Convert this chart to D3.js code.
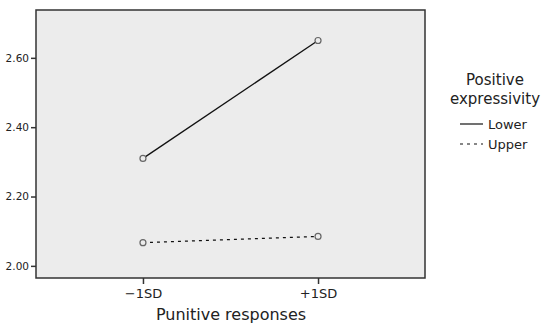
<!DOCTYPE html>
<html>
<head>
<meta charset="utf-8">
<script src="https://cdn.jsdelivr.net/npm/d3@7"></script>
<style>
  body { margin: 0; background: #fff; }
  text { font-family: "DejaVu Sans", sans-serif; fill: #222; }
</style>
</head>
<body>
<div id="chart"></div>
<script>
// chart data
const categories = ['\u22121SD', '+1SD'];
const lowerValues = [2.31, 2.65];
const upperValues = [2.067, 2.085];
const yTicks = [2.00, 2.20, 2.40, 2.60];
const seriesNames = ['Lower', 'Upper'];

const width = 547, height = 327;
const plot = {left: 36, top: 10, right: 425, bottom: 278};

const svg = d3.select('#chart').append('svg')
  .attr('width', width)
  .attr('height', height);

const x = d3.scalePoint()
  .domain(categories)
  .range([plot.left, plot.right])
  .padding(0.611);

const y = d3.scaleLinear()
  .domain([1.965, 2.738])
  .range([plot.bottom, plot.top]);

// plot background
svg.append('rect')
  .attr('x', plot.left)
  .attr('y', plot.top)
  .attr('width', plot.right - plot.left)
  .attr('height', plot.bottom - plot.top)
  .attr('fill', '#ececec')
  .attr('stroke', '#333')
  .attr('stroke-width', 1.5);

// y axis
const yAxis = svg.append('g')
  .attr('transform', `translate(${plot.left},0)`)
  .call(d3.axisLeft(y).tickValues(yTicks).tickFormat(d3.format('.2f')).tickSize(5).tickPadding(2));
yAxis.select('.domain').remove();
yAxis.selectAll('line').attr('stroke', '#333').attr('stroke-width', 1.5);
yAxis.selectAll('text').style('font-size', '10.5px').attr('fill', '#222');

// x axis
const xAxis = svg.append('g')
  .attr('transform', `translate(0,${plot.bottom})`)
  .call(d3.axisBottom(x).tickSize(6).tickPadding(5));
xAxis.select('.domain').remove();
xAxis.selectAll('line').attr('stroke', '#333').attr('stroke-width', 1.5);
xAxis.selectAll('text').style('font-size', '13px').attr('fill', '#222');

svg.append('text')
  .attr('x', 231)
  .attr('y', 320)
  .attr('text-anchor', 'middle')
  .style('font-size', '16px')
  .text('Punitive responses');

// series
const line = d3.line()
  .x((d, i) => x(categories[i]))
  .y(d => y(d));

const series = [
  {name: seriesNames[0], values: lowerValues, dash: null},
  {name: seriesNames[1], values: upperValues, dash: '3,4'}
];

series.forEach(s => {
  svg.append('path')
    .datum(s.values)
    .attr('d', line)
    .attr('fill', 'none')
    .attr('stroke', '#111')
    .attr('stroke-width', 1.3)
    .attr('stroke-dasharray', s.dash);

  svg.selectAll(null)
    .data(s.values)
    .enter()
    .append('circle')
    .attr('cx', (d, i) => x(categories[i]))
    .attr('cy', d => y(d))
    .attr('r', 3)
    .attr('fill', '#ececec')
    .attr('stroke', '#666')
    .attr('stroke-width', 1.2);
});

// legend
const legend = svg.append('g');
legend.append('text')
  .attr('x', 495).attr('y', 85)
  .attr('text-anchor', 'middle')
  .style('font-size', '15px')
  .text('Positive');
legend.append('text')
  .attr('x', 495).attr('y', 104)
  .attr('text-anchor', 'middle')
  .style('font-size', '15px')
  .text('expressivity');

series.forEach((s, i) => {
  const ly = 124 + i * 20;
  legend.append('line')
    .attr('x1', 460).attr('x2', 483)
    .attr('y1', ly).attr('y2', ly)
    .attr('stroke', '#111')
    .attr('stroke-width', 1.2)
    .attr('stroke-dasharray', s.dash);
  legend.append('text')
    .attr('x', 488).attr('y', ly + 5)
    .style('font-size', '13px')
    .text(s.name);
});
</script>
</body>
</html>
